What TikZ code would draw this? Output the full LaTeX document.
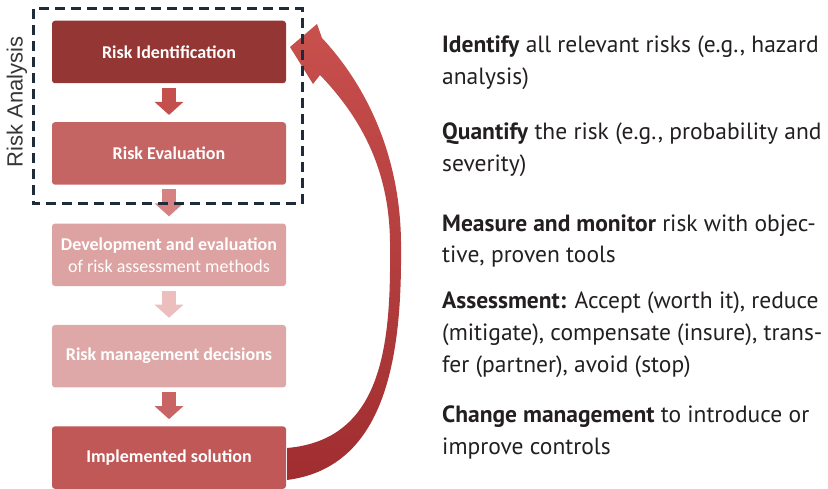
\documentclass[tikz,border=0pt]{standalone}
\usepackage{fontspec}
\setmainfont{PT Sans}
\newfontfamily\boxfont{Carlito}
\newfontfamily\labelfont{Liberation Sans}
\usetikzlibrary{positioning,arrows.meta}
\definecolor{identred}{RGB}{148,54,52}
\definecolor{evalred}{RGB}{196,100,99}
\definecolor{methodpink}{RGB}{221,162,162}
\definecolor{decisionpink}{RGB}{222,168,168}
\definecolor{solutionred}{RGB}{192,88,88}
\definecolor{framenavy}{RGB}{30,43,58}
\definecolor{notegray}{RGB}{35,31,32}
\definecolor{labelgray}{RGB}{55,55,55}
\tikzset{
stage/.style={rectangle,rounded corners=3pt,minimum width=234pt,minimum height=62.5pt,
  inner sep=0pt,text=white,align=center,font=\boxfont\bfseries\fontsize{18}{22}\selectfont},
flow/.style={line width=14pt,-{Triangle[width=28pt,length=13pt]},shorten <=4.5pt,shorten >=7pt},
note/.style={anchor=base west,align=left,inner sep=0pt,text=notegray,
  font=\fontsize{23.5}{32}\selectfont},
riskframe/.style={draw=framenavy,line width=3pt,dash pattern=on 10pt off 6pt},
}
\begin{document}
\begin{tikzpicture}[x=1pt,y=-1pt]
\useasboundingbox (0,0) rectangle (828,489);

% process stages
\node[stage,fill=identred] (ident) at (169,52) {Risk Identification};
\node[stage,fill=evalred,below=38.5pt of ident] (eval) {Risk Evaluation};
\node[stage,fill=methodpink,below=38.5pt of eval] (method)
  {Development and evaluation\\{\mdseries of risk assessment methods}};
\node[stage,fill=decisionpink,below=38.5pt of method] (decide) {Risk management decisions};
\node[stage,fill=solutionred,below=38.5pt of decide] (impl) {Implemented solution};

\draw[flow,draw={rgb,255:red,195;green,80;blue,77}] (ident) -- (eval);
\draw[flow,draw={rgb,255:red,214;green,130;blue,130}] (eval) -- (method);
\draw[flow,draw={rgb,255:red,236;green,190;blue,190}] (method) -- (decide);
\draw[flow,draw={rgb,255:red,200;green,100;blue,100}] (decide) -- (impl);

% feedback loop back to the first stage
\coordinate (loopfrom) at (287,448);
\coordinate (looptip) at (290,47);
\shade[top color={rgb,255:red,200;green,80;blue,77},bottom color={rgb,255:red,160;green,45;blue,48}]
  (loopfrom) .. controls (380,440) and (391,350) .. (390,250)
  .. controls (391,180) and (368,125) .. (320,75)
  -- (313,84) -- (looptip) -- (317,24) -- (322,38)
  .. controls (375,95) and (402,170) .. (401,250)
  .. controls (402,370) and (380,468) .. (287,480) -- cycle;

\draw[riskframe] (33,9) rectangle (302,204);
\node[rotate=90,text=labelgray,font=\labelfont\fontsize{22}{26}\selectfont] (analysis) at (17,102) {Risk Analysis};

% explanations, placed by the baseline of their last line
\node[note] (identnote) at (442,85) {\textbf{Identify} all relevant risks (e.g., hazard\\analysis)};
\node[note] (evalnote) at (442,172) {\textbf{Quantify} the risk (e.g., probability and\\severity)};
\node[note] (methodnote) at (442,263) {\textbf{Measure and monitor} risk with objec-\\tive, proven tools};
\node[note] (decidenote) at (442,372) {\textbf{Assessment:} Accept (worth it), reduce\\(mitigate), compensate (insure), trans-\\fer (partner), avoid (stop)};
\node[note] (implnote) at (442,454) {\textbf{Change management} to introduce or\\improve controls};
\end{tikzpicture}
\end{document}
